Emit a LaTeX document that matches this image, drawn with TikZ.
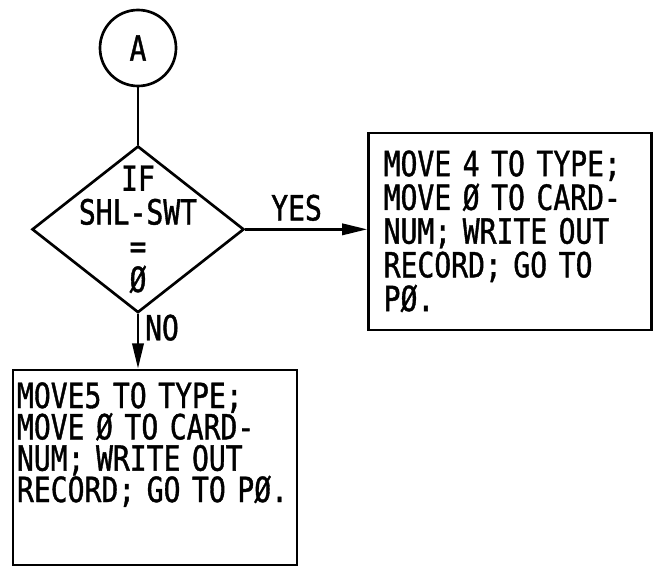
\documentclass[tikz,border=0pt]{standalone}
\usepackage{fontspec}
\newfontfamily\flowfont[FakeStretch=0.809, FakeBold=1.1]{DejaVu Sans Mono}
\usetikzlibrary{arrows.meta,positioning,shapes.geometric}
\lineskiplimit=-20pt

\begin{document}
\begin{tikzpicture}[
  font=\flowfont\fontsize{26}{25.3}\selectfont,
  line width=2pt,
  conn/.style={draw, circle, minimum size=57pt, inner sep=0pt},
  decide/.style={draw, diamond, minimum width=159pt, minimum height=125pt, inner sep=0pt},
  proc/.style={draw, rectangle, align=left},
  arr/.style={-{Triangle[length=19pt, width=8.5pt]}}]
\useasboundingbox (0,0) rectangle (491.25pt,-425.25pt);
% entry connector and test
\node[conn] (entry) at (103.5pt,-36pt) {A};
\node[decide, below=43pt of entry,
  label={[align=center]center:{IF\\SHL-SWT\\=\\Ø}}] (test) {};
% the two branches
\node[proc, right=91.5pt of test, yshift=-1.5pt, minimum width=212.25pt,
  minimum height=147.75pt, text width=189.75pt, inner xsep=11.25pt] (yesbox)
  {MOVE 4 TO TYPE;\\MOVE Ø TO CARD-\\NUM; WRITE OUT\\RECORD; GO TO\\PØ.};
\node[proc, below=41pt of test, xshift=12.75pt, text width=207pt,
  inner xsep=3pt, inner ysep=9pt, text height=19.5pt, text depth=108.75pt,
  font=\flowfont\fontsize{26}{23.5}\selectfont] (nobox)
  {MOVE5 TO TYPE;\\MOVE Ø TO CARD-\\NUM; WRITE OUT\\RECORD; GO TO PØ.};

\draw (entry) -- (test);
\draw[arr] (test) -- (test -| yesbox.west) node[above=2pt, pos=.42] {YES};
\draw[arr] (test.south) -- (test.south |- nobox.north)
  node[right=1pt, pos=.25] {NO};
\end{tikzpicture}
\end{document}
